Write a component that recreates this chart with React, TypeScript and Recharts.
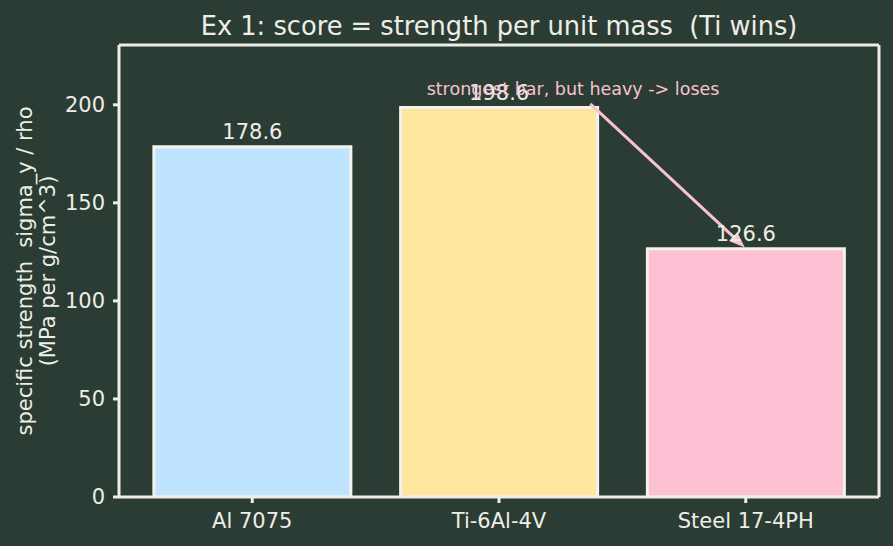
import React from 'react';
import { BarChart, Bar, XAxis, YAxis, Cell, LabelList, ReferenceLine, ReferenceDot } from 'recharts';

const categories = ['Al 7075', 'Ti-6Al-4V', 'Steel 17-4PH'];
const scores = [178.6, 198.6, 126.6];
const barColors = ['#bfe4ff', '#fee69e', '#fec1d4'];
const xPositions = [0, 1, 2];
const yTicks = [0, 50, 100, 150, 200];
const yDomain = [0, 230.5];
const xDomain = [-0.54, 2.54];
const titleText = 'Ex 1: score = strength per unit mass  (Ti wins)';
const yLabelLine1 = 'specific strength  sigma_y / rho';
const yLabelLine2 = '(MPa per g/cm^3)';
const annotationText = 'strongest bar, but heavy -> loses';
const annotationAnchor = { x: 1.3, y: 208 };
const arrowStart = { x: 1.37, y: 200.5 };
const arrowEnd = { x: 1.99, y: 128.0 };

const data = xPositions.map((x, i) => ({ x, name: categories[i], score: scores[i] }));

const BG = '#2b3c34';
const FG = '#eeeee6';
const PINK = '#f7c3d2';
const FONT = 'DejaVu Sans';

const YLabel = (props: any) => {
  const vb = props.viewBox || { x: 0, y: 45, width: 119, height: 452 };
  const cy = vb.y + vb.height / 2;
  return (
    <g>
      <text x={25} y={cy} transform={`rotate(-90, 25, ${cy})`} textAnchor="middle" dominantBaseline="central"
        fill={FG} fontSize={21} fontFamily={FONT} style={{ whiteSpace: 'pre' }}>{yLabelLine1}</text>
      <text x={48} y={cy} transform={`rotate(-90, 48, ${cy})`} textAnchor="middle" dominantBaseline="central"
        fill={FG} fontSize={21} fontFamily={FONT} style={{ whiteSpace: 'pre' }}>{yLabelLine2}</text>
    </g>
  );
};

const Arrow = (p: any) => {
  const { x1, y1, x2, y2 } = p;
  const ang = Math.atan2(y2 - y1, x2 - x1);
  const L = 13;
  const W = 5;
  const bx = x2 - L * Math.cos(ang);
  const by = y2 - L * Math.sin(ang);
  const nx = -Math.sin(ang);
  const ny = Math.cos(ang);
  return (
    <g>
      <line x1={x1} y1={y1} x2={bx} y2={by} stroke={PINK} strokeWidth={3} />
      <polygon points={`${bx + W * nx},${by + W * ny} ${x2},${y2} ${bx - W * nx},${by - W * ny}`}
        fill={PINK} stroke={PINK} strokeWidth={1.5} />
    </g>
  );
};

export default function App() {
  return (
    <div style={{ position: 'absolute', left: 0, top: 0, width: 893, height: 546, background: BG }}>
      <div style={{ position: 'absolute', left: 119, width: 760, top: 9, textAlign: 'center', color: FG,
        fontFamily: FONT, fontSize: 25.7, whiteSpace: 'pre', lineHeight: '34px' }}>{titleText}</div>
      <BarChart width={893} height={546} data={data} margin={{ top: 45, right: 14, bottom: 9, left: 0 }}>
        <XAxis dataKey="x" type="number" domain={xDomain} ticks={xPositions} allowDataOverflow
          tickFormatter={(v: number) => categories[v]} height={40}
          stroke={FG} strokeWidth={3} tickSize={6} tickMargin={10}
          tick={{ fill: FG, fontSize: 21, fontFamily: FONT }} />
        <YAxis type="number" domain={yDomain} ticks={yTicks} width={119} allowDataOverflow
          stroke={FG} strokeWidth={3} tickSize={6} tickMargin={8}
          tick={{ fill: FG, fontSize: 21, fontFamily: FONT }} label={{ content: YLabel }} />
        <ReferenceLine y={yDomain[1]} stroke={FG} strokeWidth={3} ifOverflow="visible" />
        <ReferenceLine x={xDomain[1]} stroke={FG} strokeWidth={3} ifOverflow="visible" />
        <Bar dataKey="score" barSize={197} stroke="#f4f2ea" strokeWidth={3} isAnimationActive={false}>
          {data.map((d, i) => <Cell key={d.name} fill={barColors[i]} />)}
          <LabelList dataKey="score" position="top" offset={8} fill={FG} fontSize={21} fontFamily={FONT}
            formatter={(v: number) => v.toFixed(1)} />
        </Bar>
        <ReferenceDot x={annotationAnchor.x} y={annotationAnchor.y} r={0} stroke="none" fill="none" ifOverflow="visible"
          label={{ value: annotationText, fill: PINK, fontSize: 17.5, fontFamily: FONT, position: 'center' }} />
        <ReferenceLine segment={[arrowStart, arrowEnd]} ifOverflow="visible" shape={Arrow} />
      </BarChart>
    </div>
  );
}
